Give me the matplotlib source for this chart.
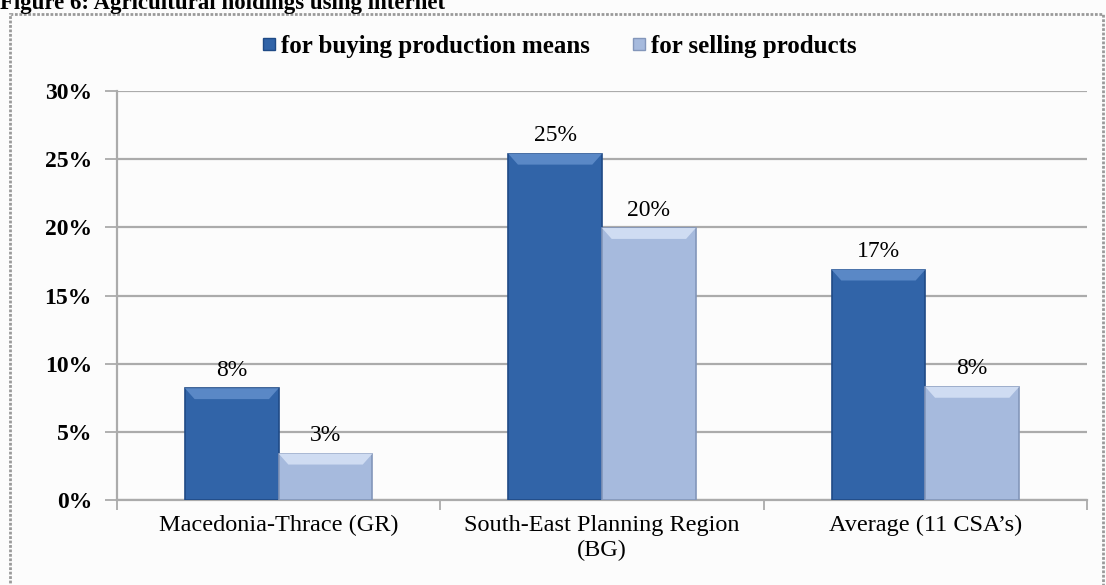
import matplotlib.pyplot as plt
import numpy as np
from matplotlib.patches import Rectangle
from matplotlib.ticker import FuncFormatter, FixedLocator

categories = ['Macedonia-Thrace (GR)', 'South-East Planning Region\n(BG)', 'Average (11 CSA\u2019s)']
buying = [8.2, 25.4, 16.9]
selling = [3.4, 19.95, 8.3]
buying_labels = ['8%', '25%', '17%']
selling_labels = ['3%', '20%', '8%']
series_names = ['for buying production means', 'for selling products']

serif = ['Liberation Serif', 'DejaVu Serif']
plt.rcParams['font.family'] = serif

fig = plt.figure(figsize=(11.06, 5.85), dpi=100, facecolor='#fcfcfc')

# caption above the chart box (its top is cut off in the source page)
fig.text(0.0, 1.0 - 9 / 585, 'Figure 6: Agricultural holdings using internet',
         fontsize=16.5, fontweight='bold', ha='left', va='baseline')

# dotted grey frame of the chart
frame = Rectangle((10 / 1106, -0.05), 1093 / 1106, 1.05 - 14 / 585, transform=fig.transFigure,
                  fill=False, edgecolor='#9a9a9a', linewidth=2, linestyle=(0, (1, 0.6)))
fig.patches.append(frame)

ax = fig.add_axes([117 / 1106, 1 - 500 / 585, (1087 - 117) / 1106, 409 / 585])
ax.set_facecolor('#fcfcfc')

x = np.arange(len(categories))
w = 0.29
dark = '#3164a8'
light = '#a6badd'
b1 = ax.bar(x - w / 2, buying, w, color=dark, edgecolor='#1f4a86', linewidth=1.2, zorder=3)
b2 = ax.bar(x + w / 2, selling, w, color=light, edgecolor='#8396ba', linewidth=1.2, zorder=3)

# simple bevel on the bar tops
for bars, top_col in ((b1, '#5a88c6'), (b2, '#cfdcf2')):
    for r in bars:
        x0, y0 = r.get_x(), r.get_height()
        bw = r.get_width()
        bev = 0.8
        ax.fill([x0, x0 + bw, x0 + bw - 0.03, x0 + 0.03],
                [y0, y0, y0 - bev, y0 - bev], color=top_col, zorder=4, lw=0)

for bars, labs in ((b1, buying_labels), (b2, selling_labels)):
    for r, t in zip(bars, labs):
        ax.text(r.get_x() + r.get_width() / 2, r.get_height() + 0.55, t,
                ha='center', va='bottom', fontsize=17)

ax.set_xlim(-0.5, 2.5)
ax.set_ylim(0, 30)
ax.set_yticks(np.arange(0, 31, 5))
ax.yaxis.set_major_formatter(FuncFormatter(lambda v, p: f'{int(v)}%'))
ax.grid(axis='y', color='#ababab', linewidth=1.6, zorder=0)
ax.tick_params(axis='y', length=9, width=1.3, color='#ababab', labelsize=17, pad=9)
for lab in ax.get_yticklabels():
    lab.set_fontweight('bold')

ax.set_xticks(x)
ax.set_xticklabels(categories, fontsize=17.5, linespacing=1.2)
ax.tick_params(axis='x', length=0, pad=11)
ax.xaxis.set_minor_locator(FixedLocator([-0.5, 0.5, 1.5, 2.5]))
ax.tick_params(axis='x', which='minor', length=7, width=1.3, color='#ababab')

for s in ('top', 'right'):
    ax.spines[s].set_visible(False)
for s in ('left', 'bottom'):
    ax.spines[s].set_color('#ababab')
    ax.spines[s].set_linewidth(1.6)

h1 = plt.Line2D([], [], marker='s', ls='', markersize=9, markerfacecolor=dark, markeredgecolor='#1f4a86')
h2 = plt.Line2D([], [], marker='s', ls='', markersize=9, markerfacecolor=light, markeredgecolor='#8396ba')
fig.legend([h1, h2], series_names, loc='center', bbox_to_anchor=(0.505, 1 - 46 / 585), ncol=2,
           frameon=False, prop={'size': 18, 'weight': 'bold'}, handletextpad=0.15, columnspacing=1.6,
           handlelength=0.7)

fig.savefig('out.png', dpi=100, facecolor=fig.get_facecolor())
